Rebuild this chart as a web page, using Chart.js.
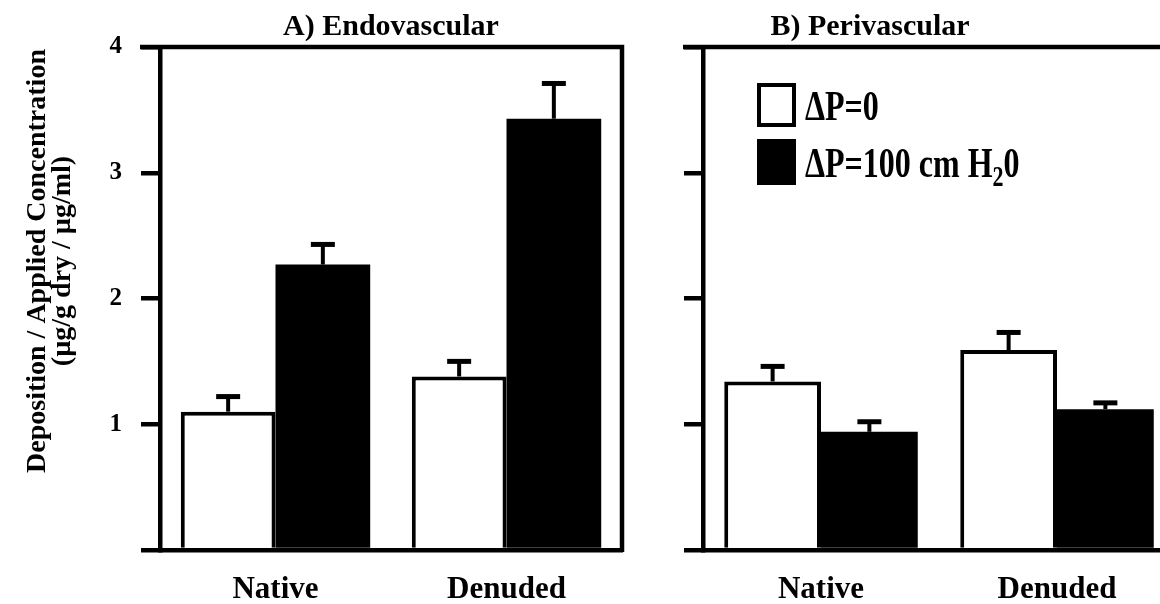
<!DOCTYPE html>
<html>
<head>
<meta charset="utf-8">
<script src="https://cdn.jsdelivr.net/npm/chart.js@4.4.1/dist/chart.umd.min.js"></script>
<style>
  html, body { margin: 0; padding: 0; background: #fff; overflow: hidden; width: 1160px; height: 604px; position: relative; }
  #endo { position: absolute; left: 0; top: 0; }
  #peri { position: absolute; left: 640px; top: 0; }
</style>
</head>
<body>
<canvas id="endo" width="650" height="604"></canvas>
<canvas id="peri" width="560" height="604"></canvas>
<script>
// Deposition normalised by applied concentration, mean + SE
const categories = ['Native', 'Denuded'];
const seriesLabels = ['ΔP=0', 'ΔP=100 cm H20'];
const panelTitles = ['A) Endovascular', 'B) Perivascular'];
const yTitleLines = ['Deposition / Applied Concentration', '(µg/g dry / µg/ml)'];
const yTickValues = [0, 1, 2, 3, 4];

const endoNoPressure = [1.10, 1.38];
const endoNoPressureErr = [0.12, 0.12];
const endoPressure = [2.27, 3.43];
const endoPressureErr = [0.16, 0.28];

const periNoPressure = [1.34, 1.59];
const periNoPressureErr = [0.12, 0.14];
const periPressure = [0.94, 1.12];
const periPressureErr = [0.08, 0.05];

const FONT = '"Liberation Serif", "Times New Roman", Times, serif';
const INK = '#000';
const LINE = 4.5;

function datasets(noP, noPErr, p, pErr) {
  return [
    { label: seriesLabels[0], data: noP, errors: noPErr,
      backgroundColor: '#fff', borderColor: INK, borderWidth: 4, borderSkipped: 'start' },
    { label: seriesLabels[1], data: p, errors: pErr,
      backgroundColor: INK, borderColor: INK, borderWidth: 0 }
  ];
}

// upward-only error bars with a flat cap
const errorBars = {
  id: 'errorBars',
  afterDatasetsDraw(chart) {
    const ctx = chart.ctx, y = chart.scales.y;
    ctx.save();
    ctx.strokeStyle = INK;
    chart.data.datasets.forEach((ds, i) => {
      chart.getDatasetMeta(i).data.forEach((bar, j) => {
        const top = y.getPixelForValue(ds.data[j] + ds.errors[j]);
        ctx.lineWidth = 4;
        ctx.beginPath();
        ctx.moveTo(bar.x, bar.y);
        ctx.lineTo(bar.x, top);
        ctx.stroke();
        ctx.lineWidth = 5;
        ctx.beginPath();
        ctx.moveTo(bar.x - 12, top);
        ctx.lineTo(bar.x + 12, top);
        ctx.stroke();
      });
    });
    ctx.restore();
  }
};

// tall, narrow lettering used in the key
function tallText(ctx, text, x, y, stretch) {
  ctx.save();
  ctx.translate(x, y);
  ctx.scale(1, stretch);
  ctx.fillText(text, 0, 0);
  ctx.restore();
  return ctx.measureText(text).width;
}

// closes the plot box along the top and right edges, and writes the panel text
const panelDecor = {
  id: 'panelDecor',
  afterDraw(chart, args, opts) {
    const ctx = chart.ctx, a = chart.chartArea;
    ctx.save();
    ctx.strokeStyle = INK;
    ctx.lineWidth = LINE;
    ctx.beginPath();
    ctx.moveTo(a.left - 20, a.top);
    ctx.lineTo(a.right, a.top);
    ctx.lineTo(a.right, a.bottom + 2);
    ctx.stroke();

    ctx.fillStyle = INK;
    ctx.font = 'bold 30px ' + FONT;
    ctx.textAlign = 'center';
    ctx.textBaseline = 'alphabetic';
    ctx.fillText(opts.title, opts.titleX, 35);

    if (opts.yTitle) {
      ctx.save();
      ctx.translate(0, 261);
      ctx.rotate(-Math.PI / 2);
      ctx.font = 'bold 28px ' + FONT;
      ctx.textBaseline = 'middle';
      ctx.fillText(opts.yTitle[0], 0, 38);
      ctx.fillText(opts.yTitle[1], 0, 63);
      ctx.restore();
    }

    if (opts.legend) {
      const lx = opts.legend.x, ly = opts.legend.y, k = 1.3;
      ctx.lineWidth = 4;
      ctx.fillStyle = '#fff';
      ctx.fillRect(lx, ly, 39, 44);
      ctx.strokeRect(lx + 2, ly + 2, 35, 40);
      ctx.fillStyle = INK;
      ctx.fillRect(lx, ly + 56, 39, 46);
      ctx.textAlign = 'left';
      ctx.font = 'bold 32px ' + FONT;
      tallText(ctx, seriesLabels[0], lx + 48, ly + 37, k);
      // second label with subscript 2 in H2O
      const main = seriesLabels[1].slice(0, -2);
      let tx = lx + 48;
      const base = ly + 94;
      tx += tallText(ctx, main, tx, base, k);
      ctx.font = 'bold 22px ' + FONT;
      tx += tallText(ctx, '2', tx, base + 9, k);
      ctx.font = 'bold 32px ' + FONT;
      tallText(ctx, '0', tx, base, k);
    }
    ctx.restore();
  }
};

function options(areaLeft, padRight, showY, decor) {
  return {
    responsive: false,
    animation: false,
    layout: { padding: { top: 47, right: padRight, bottom: 0, left: 0 } },
    datasets: { bar: { barPercentage: 1.0, categoryPercentage: 0.82 } },
    plugins: { legend: { display: false }, tooltip: { enabled: false }, panelDecor: decor },
    scales: {
      x: {
        grid: { display: false },
        border: { display: true, color: INK, width: LINE },
        ticks: { color: INK, padding: 13, maxRotation: 0,
                 font: { family: FONT, size: 31, weight: 'bold' } },
        afterFit(s) { s.height = 54; }
      },
      y: {
        min: 0, max: 4,
        afterBuildTicks(s) { s.ticks = yTickValues.map(v => ({ value: v })); },
        ticks: { display: showY, color: INK, padding: 19,
                 font: { family: FONT, size: 25, weight: 'bold' },
                 callback: v => (v === 0 ? '' : String(v)) },
        grid: { drawOnChartArea: false, drawTicks: true, tickLength: 19, lineWidth: LINE, color: INK },
        border: { display: true, color: INK, width: LINE },
        afterFit(s) { s.width = areaLeft; }
      }
    }
  };
}

new Chart(document.getElementById('endo'), {
  type: 'bar',
  data: { labels: categories, datasets: datasets(endoNoPressure, endoNoPressureErr, endoPressure, endoPressureErr) },
  options: options(160, 28, true, { title: panelTitles[0], titleX: 391, yTitle: yTitleLines }),
  plugins: [errorBars, panelDecor]
});

new Chart(document.getElementById('peri'), {
  type: 'bar',
  data: { labels: categories, datasets: datasets(periNoPressure, periNoPressureErr, periPressure, periPressureErr) },
  options: options(63, 25, false, { title: panelTitles[1], titleX: 230, legend: { x: 117, y: 83 } }),
  plugins: [errorBars, panelDecor]
});
</script>
</body>
</html>
